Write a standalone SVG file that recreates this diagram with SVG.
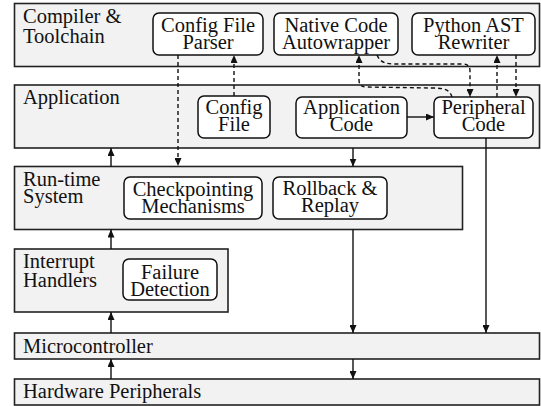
<svg xmlns="http://www.w3.org/2000/svg" width="541" height="406" viewBox="0 0 541 406" font-family="'Liberation Serif', 'DejaVu Serif', serif">
<defs>
<style>
.layer{fill:#f2f2f2;stroke:#222;stroke-width:1.6}
.box{fill:#fff;stroke:#111;stroke-width:1.5}
text{font-family:'Liberation Serif','DejaVu Serif',serif;font-size:20.5px;fill:#111}
.c{text-anchor:middle}
.ln{fill:none;stroke:#111;stroke-width:1.4}
.d{stroke-dasharray:4,3}
</style>
<marker id="ah" viewBox="0 0 8 7" refX="8" refY="3.5" markerWidth="8" markerHeight="7" markerUnits="userSpaceOnUse" orient="auto">
<path d="M0,0 L8,3.5 L0,7 z" fill="#111"/>
</marker>
</defs>
<rect width="541" height="406" fill="#fff"/>

<g id="compiler">
<rect class="layer" x="14.5" y="3.5" width="525" height="63"/>
<text x="23" y="23">Compiler &amp;</text>
<text x="23" y="43">Toolchain</text>
</g>
<g id="application">
<rect class="layer" x="14.5" y="85" width="525" height="63"/>
<text x="23" y="104">Application</text>
</g>
<g id="runtime">
<rect class="layer" x="14.5" y="166.5" width="448" height="63"/>
<text x="23" y="186">Run-time</text>
<text x="23" y="203">System</text>
</g>
<g id="interrupt">
<rect class="layer" x="14.5" y="249" width="213.5" height="63"/>
<text x="23" y="268">Interrupt</text>
<text x="23" y="287">Handlers</text>
</g>
<g id="microcontroller">
<rect class="layer" x="14.5" y="333" width="525" height="26"/>
<text x="23" y="353">Microcontroller</text>
</g>
<g id="hardware">
<rect class="layer" x="14.5" y="379" width="525" height="26"/>
<text x="23" y="398">Hardware Peripherals</text>
</g>

<g id="config-parser">
<rect class="box" x="153" y="13" width="110" height="42" rx="6"/>
<text class="c" x="208" y="32">Config File</text>
<text class="c" x="208" y="49">Parser</text>
</g>
<g id="native-autowrapper">
<rect class="box" x="274" y="13" width="124" height="42" rx="6"/>
<text class="c" x="336" y="32">Native Code</text>
<text class="c" x="336" y="49">Autowrapper</text>
</g>
<g id="python-ast">
<rect class="box" x="412" y="13" width="123" height="42" rx="6"/>
<text class="c" x="473.5" y="32">Python AST</text>
<text class="c" x="473.5" y="49">Rewriter</text>
</g>
<g id="config-file">
<rect class="box" x="198" y="96" width="72" height="42" rx="6"/>
<text class="c" x="234" y="114">Config</text>
<text class="c" x="234" y="131">File</text>
</g>
<g id="application-code">
<rect class="box" x="296" y="97" width="111" height="41" rx="6"/>
<text class="c" x="351.5" y="114">Application</text>
<text class="c" x="351.5" y="131">Code</text>
</g>
<g id="peripheral-code">
<rect class="box" x="434" y="97" width="99" height="41" rx="6"/>
<text class="c" x="483.5" y="114">Peripheral</text>
<text class="c" x="483.5" y="131">Code</text>
</g>
<g id="checkpointing">
<rect class="box" x="124" y="177" width="138" height="42" rx="6"/>
<text class="c" x="193" y="196">Checkpointing</text>
<text class="c" x="193" y="213">Mechanisms</text>
</g>
<g id="rollback">
<rect class="box" x="273" y="177" width="114" height="42" rx="6"/>
<text class="c" x="330" y="195">Rollback &amp;</text>
<text class="c" x="330" y="212">Replay</text>
</g>
<g id="failure-detection">
<rect class="box" x="123" y="259" width="94" height="41" rx="6"/>
<text class="c" x="170" y="279">Failure</text>
<text class="c" x="170" y="296">Detection</text>
</g>

<g id="connectors">
<path class="ln d" d="M178,55 L178,166" marker-end="url(#ah)"/>
<path class="ln d" d="M234,96 L234,55" marker-end="url(#ah)"/>
<path class="ln" d="M111,166.5 L111,148" marker-end="url(#ah)"/>
<path class="ln" d="M353,148 L353,166.5" marker-end="url(#ah)"/>
<path class="ln" d="M407,117 L434,117" marker-end="url(#ah)"/>
<path class="ln d" d="M452,97 C450,90 445,88 432,88 L366,87 Q359,87 359,80 L359,55" marker-end="url(#ah)"/>
<path class="ln d" d="M377,55 C380,62 385,64 395,64 L463,64 Q470,64 470,71 L470,97" marker-end="url(#ah)"/>
<path class="ln d" d="M497,97 L497,55" marker-end="url(#ah)"/>
<path class="ln d" d="M516,55 L516,97" marker-end="url(#ah)"/>
<path class="ln" d="M353,229.5 L353,333" marker-end="url(#ah)"/>
<path class="ln" d="M486,138 L486,333" marker-end="url(#ah)"/>
<path class="ln" d="M111,249 L111,229.5" marker-end="url(#ah)"/>
<path class="ln" d="M111,333 L111,312" marker-end="url(#ah)"/>
<path class="ln" d="M111,379 L111,359" marker-end="url(#ah)"/>
<path class="ln" d="M353,359 L353,379" marker-end="url(#ah)"/>
</g>
</svg>
